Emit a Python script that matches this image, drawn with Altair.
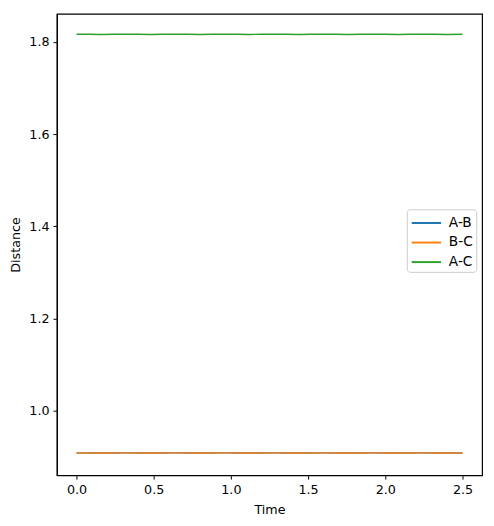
import altair as alt
import pandas as pd

time = [0.0, 0.08, 0.16, 0.24, 0.32, 0.40, 0.48, 0.56, 0.64, 0.72, 0.80, 0.88, 0.96,
        1.04, 1.12, 1.20, 1.28, 1.36, 1.44, 1.52, 1.60, 1.68, 1.76, 1.84, 1.92, 2.00,
        2.08, 2.16, 2.24, 2.32, 2.40, 2.50]
ab = [0.9084, 0.9083, 0.9082, 0.9083, 0.9084, 0.9083, 0.9082, 0.9083, 0.9084, 0.9083,
      0.9082, 0.9083, 0.9084, 0.9083, 0.9082, 0.9083, 0.9084, 0.9083, 0.9082, 0.9083,
      0.9084, 0.9083, 0.9082, 0.9083, 0.9084, 0.9083, 0.9082, 0.9083, 0.9084, 0.9083,
      0.9082, 0.9083]
bc = [0.9084, 0.9083, 0.9082, 0.9083, 0.9084, 0.9083, 0.9082, 0.9083, 0.9084, 0.9083,
      0.9082, 0.9083, 0.9084, 0.9083, 0.9082, 0.9083, 0.9084, 0.9083, 0.9082, 0.9083,
      0.9084, 0.9083, 0.9082, 0.9083, 0.9084, 0.9083, 0.9082, 0.9083, 0.9084, 0.9083,
      0.9082, 0.9083]
ac = [1.8168, 1.8165, 1.8163, 1.8165, 1.8168, 1.8165, 1.8163, 1.8165, 1.8168, 1.8165,
      1.8163, 1.8165, 1.8168, 1.8165, 1.8163, 1.8165, 1.8168, 1.8165, 1.8163, 1.8165,
      1.8168, 1.8165, 1.8163, 1.8165, 1.8168, 1.8165, 1.8163, 1.8165, 1.8168, 1.8165,
      1.8163, 1.8167]
series = ["A-B", "B-C", "A-C"]
colors = ["#1f77b4", "#ff7f0e", "#2ca02c"]

rows = []
for name, vals in zip(series, [ab, bc, ac]):
    for t, v in zip(time, vals):
        rows.append({"Time": t, "Distance": v, "Series": name})
df = pd.DataFrame(rows)

FONT = "DejaVu Sans"
x = alt.X("Time:Q", title="Time",
          scale=alt.Scale(domain=[-0.127, 2.627], nice=False, zero=False),
          axis=alt.Axis(values=[0, 0.5, 1.0, 1.5, 2.0, 2.5], format=".1f"))
y = alt.Y("Distance:Q", title="Distance",
          scale=alt.Scale(domain=[0.86, 1.861], nice=False, zero=False),
          axis=alt.Axis(values=[1.0, 1.2, 1.4, 1.6, 1.8], format=".1f"))
color = alt.Color("Series:N",
                  scale=alt.Scale(domain=series, range=colors),
                  legend=alt.Legend(title=None, orient="none", legendX=358, legendY=200,
                                    symbolType="M-1.5,0H1.5", symbolStrokeWidth=2,
                                    symbolSize=400, symbolOffset=6,
                                    labelFontSize=14, labelFont=FONT,
                                    labelOffset=12,
                                    strokeColor="#cccccc", cornerRadius=3,
                                    padding=3, rowPadding=2, fillColor="white"))

layers = []
for name in series:
    layers.append(
        alt.Chart(df[df["Series"] == name]).mark_line(strokeWidth=1.5).encode(
            x=x, y=y, color=color
        )
    )

chart = alt.layer(*layers).properties(
    width=435, height=472,
    padding={"left": 50, "top": 0, "right": 4, "bottom": 45},
    autosize=alt.AutoSizeParams(type="none"),
).configure_view(
    stroke="black", strokeWidth=1.2
).configure_axis(
    domainColor="black", tickColor="black", tickSize=4, grid=False,
    labelFont=FONT, titleFont=FONT, labelFontSize=13, titleFontSize=13,
    labelColor="black", titleColor="black", titleFontWeight="normal",
    domainWidth=1.2
).configure_axisX(labelPadding=5, titlePadding=7).configure_axisY(labelPadding=4, titlePadding=7)

chart.save("out.html", embed_options={"renderer": "svg", "actions": False})
